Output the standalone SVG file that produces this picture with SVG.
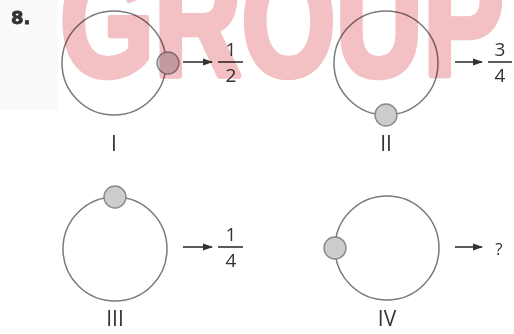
<svg xmlns="http://www.w3.org/2000/svg" width="514" height="334" viewBox="0 0 514 334">
<defs>
<style>
.ring{fill:none;stroke:#7a7a7a;stroke-width:1.5}
.ball{fill:#cdcdcd;stroke:#8a8a8a;stroke-width:1.4}
.arr{stroke:#333;stroke-width:1.6;fill:none}
.bar{stroke:#333;stroke-width:1.6}
.num{font-family:"Open Sans","Liberation Sans",sans-serif;font-size:19px;fill:#333;text-anchor:middle}
.lbl{font-family:"Open Sans","Liberation Sans",sans-serif;font-size:21px;fill:#333;text-anchor:middle}
</style>
<marker id="ah" viewBox="0 0 10 10" refX="9" refY="5" markerWidth="10" markerHeight="10" markerUnits="userSpaceOnUse" orient="auto">
<path d="M0,1.5 L10,5 L0,8.5 Z" fill="#333"/>
</marker>
</defs>
<rect width="514" height="334" fill="#fff"/>
<rect x="0" y="0" width="58" height="110" fill="#fafafa"/>
<text x="11" y="24" font-family="'DejaVu Sans',sans-serif" font-weight="bold" font-size="18" fill="#333" stroke="#333" stroke-width="0.8">8.</text>

<g id="node-I">
<circle class="ring" cx="114" cy="63" r="52"/>
<circle class="ball" cx="168" cy="63" r="11"/>
<line class="bar" x1="218" y1="62" x2="243" y2="62"/>
<text class="num" x="231" y="56">1</text>
<text class="num" x="231" y="82">2</text>
<text class="lbl" x="114" y="151">I</text>
</g>
<g id="node-II">
<circle class="ring" cx="386" cy="63" r="52"/>
<circle class="ball" cx="386" cy="115" r="11"/>
<line class="bar" x1="488" y1="62" x2="512" y2="62"/>
<text class="num" x="500" y="56">3</text>
<text class="num" x="500" y="82">4</text>
<text class="lbl" x="386" y="151">II</text>
</g>
<g id="node-III">
<circle class="ring" cx="115" cy="249" r="52"/>
<circle class="ball" cx="115" cy="197" r="11"/>
<line class="bar" x1="218" y1="247" x2="243" y2="247"/>
<text class="num" x="231" y="241">1</text>
<text class="num" x="231" y="267">4</text>
<text class="lbl" x="115" y="326">III</text>
</g>
<g id="node-IV">
<circle class="ring" cx="387" cy="248" r="52"/>
<circle class="ball" cx="335" cy="248" r="11"/>
<text class="num" x="499" y="255" style="font-size:17px">?</text>
<text class="lbl" x="387" y="326">IV</text>
</g>
<g id="connectors">
<line class="arr" x1="183" y1="62" x2="212" y2="62" marker-end="url(#ah)"/>
<line class="arr" x1="455" y1="62" x2="482" y2="62" marker-end="url(#ah)"/>
<line class="arr" x1="183" y1="247" x2="212" y2="247" marker-end="url(#ah)"/>
<line class="arr" x1="455" y1="247" x2="482" y2="247" marker-end="url(#ah)"/>
</g>
<text transform="translate(60,75) scale(1,1.3)" x="0" y="0" font-family="'Liberation Sans',sans-serif" font-weight="bold" font-size="121" fill="#f3c0c4" stroke="#f3c0c4" stroke-width="5" stroke-linejoin="round" style="mix-blend-mode:multiply">GROUP</text>
</svg>
